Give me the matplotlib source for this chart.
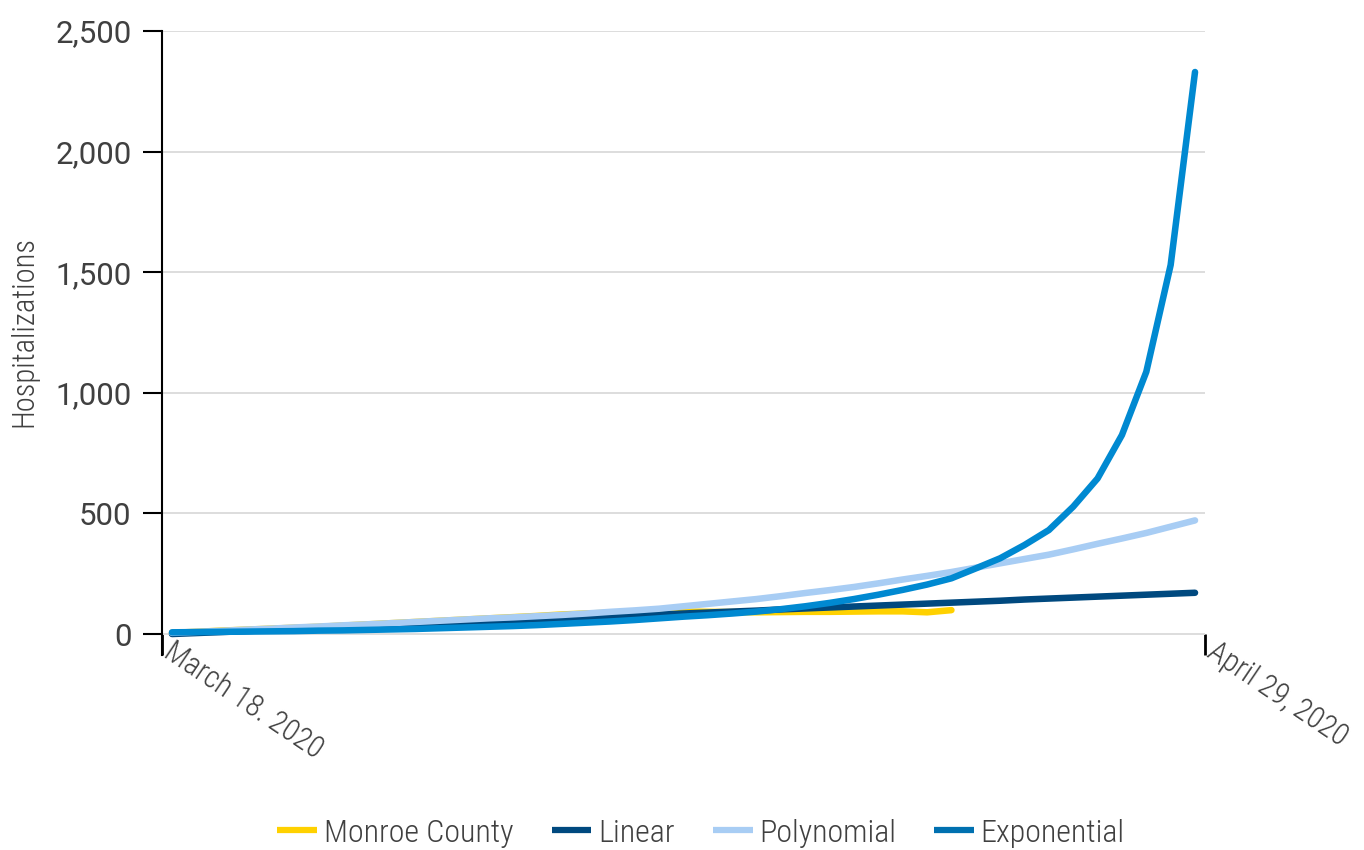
import pandas as pd
import matplotlib
matplotlib.use('Agg')
import matplotlib.pyplot as plt
import matplotlib.dates as mdates
from matplotlib.lines import Line2D

# Days shown on the chart
dates = pd.date_range('2020-03-18', '2020-04-29', freq='D')

# Observed hospitalizations (ends on April 19)
monroe = [5, 9, 14, 18, 22, 26, 30, 35, 40, 45, 50, 55, 60, 65, 70, 75, 81,
          85, 88, 90, 92, 93, 92, 91, 90, 91, 92, 92, 93, 94, 94, 90, 99]

# Trend lines
linear = [0, 4, 8, 12, 16, 20, 24, 28, 32, 36, 40, 44, 48, 53, 57, 61, 65,
          69, 73, 77, 81, 85, 89, 93, 97, 102, 106, 110, 114, 118, 122, 126,
          130, 134, 138, 143, 147, 151, 155, 159, 163, 167, 171]
polynomial = [5, 9, 13, 18, 22, 27, 31, 36, 40, 45, 50, 55, 60, 65, 69, 74,
              79, 85, 92, 98, 105, 115, 125, 135, 145, 157, 170, 182, 195,
              210, 226, 241, 257, 275, 293, 311, 329, 351, 374, 396, 419,
              445, 471]
exponential = [7, 8, 9, 10, 11, 12, 14, 15, 17, 19, 21, 24, 27, 30, 33, 37,
               42, 47, 52, 58, 65, 72, 78, 85, 93, 103, 115, 129, 145, 163,
               183, 205, 231, 272, 314, 369, 431, 528, 645, 825, 1087, 1530,
               2330]

series_names = ['Monroe County', 'Linear', 'Polynomial', 'Exponential']
line_colors = ['#FFD100', '#00497F', '#A8CDF4', '#0089D1']
legend_colors = ['#FFD100', '#00497F', '#A8CDF4', '#0070B0']

narrow = ['Roboto Condensed', 'Liberation Sans']
text_color = '#404040'

fig = plt.figure(figsize=(13.64, 8.5), dpi=100)
ax = fig.add_axes([162 / 1364, 1 - 655 / 850, (1205 - 162) / 1364, (655 - 31) / 850])

ax.plot(dates[:len(monroe)], monroe, color=line_colors[0], lw=4.7, solid_capstyle='round')
ax.plot(dates, linear, color=line_colors[1], lw=4.7, solid_capstyle='round')
ax.plot(dates, polynomial, color=line_colors[2], lw=4.7, solid_capstyle='round')
ax.plot(dates, exponential, color=line_colors[3], lw=4.7, solid_capstyle='round')

# Axis limits
x0 = mdates.date2num(dates[0]) - 0.41
x1 = mdates.date2num(dates[-1]) + 0.41
ax.set_xlim(x0, x1)
ax.set_ylim(-87, 2500)

# Y axis
ax.set_yticks([0, 500, 1000, 1500, 2000, 2500])
ax.set_yticklabels(['0', '500', '1,000', '1,500', '2,000', '2,500'],
                   family=['Roboto', 'Liberation Sans'],
                   fontsize=22.5, color=text_color)
ax.tick_params(axis='y', length=14, width=1.5, color='black', pad=8)
ax.yaxis.grid(True, color='#DDDDDD', lw=1.4)
ax.set_axisbelow(True)
ax.set_ylabel('Hospitalizations', family=narrow, fontsize=22, weight='light',
              color=text_color)
ax.yaxis.set_label_coords(-0.119, 0.518)

# X axis: only the two end dates
ax.set_xticks([x0, x1])
ax.set_xticklabels(['March 18. 2020', 'April 29, 2020'], family=narrow,
                   fontsize=22, weight='light', color=text_color, rotation=-34,
                   ha='left', va='baseline', rotation_mode='anchor')
ax.tick_params(axis='x', direction='in', length=15, width=2, color='black', pad=1)

for side in ['top', 'right', 'bottom']:
    ax.spines[side].set_visible(False)
ax.spines['left'].set_linewidth(1.5)
ax.spines['left'].set_color('black')

# Legend
handles = [Line2D([], [], color=c, lw=4.5, solid_capstyle='butt') for c in legend_colors]
fig.legend(handles, series_names, loc='center', bbox_to_anchor=(0.514, 0.02),
           ncol=4, frameon=False,
           prop={'family': narrow, 'size': 23, 'weight': 'light'},
           labelcolor=text_color, handlelength=1.25, handletextpad=0.2,
           columnspacing=1.2, borderaxespad=0)

fig.savefig('out.png', dpi=100)
